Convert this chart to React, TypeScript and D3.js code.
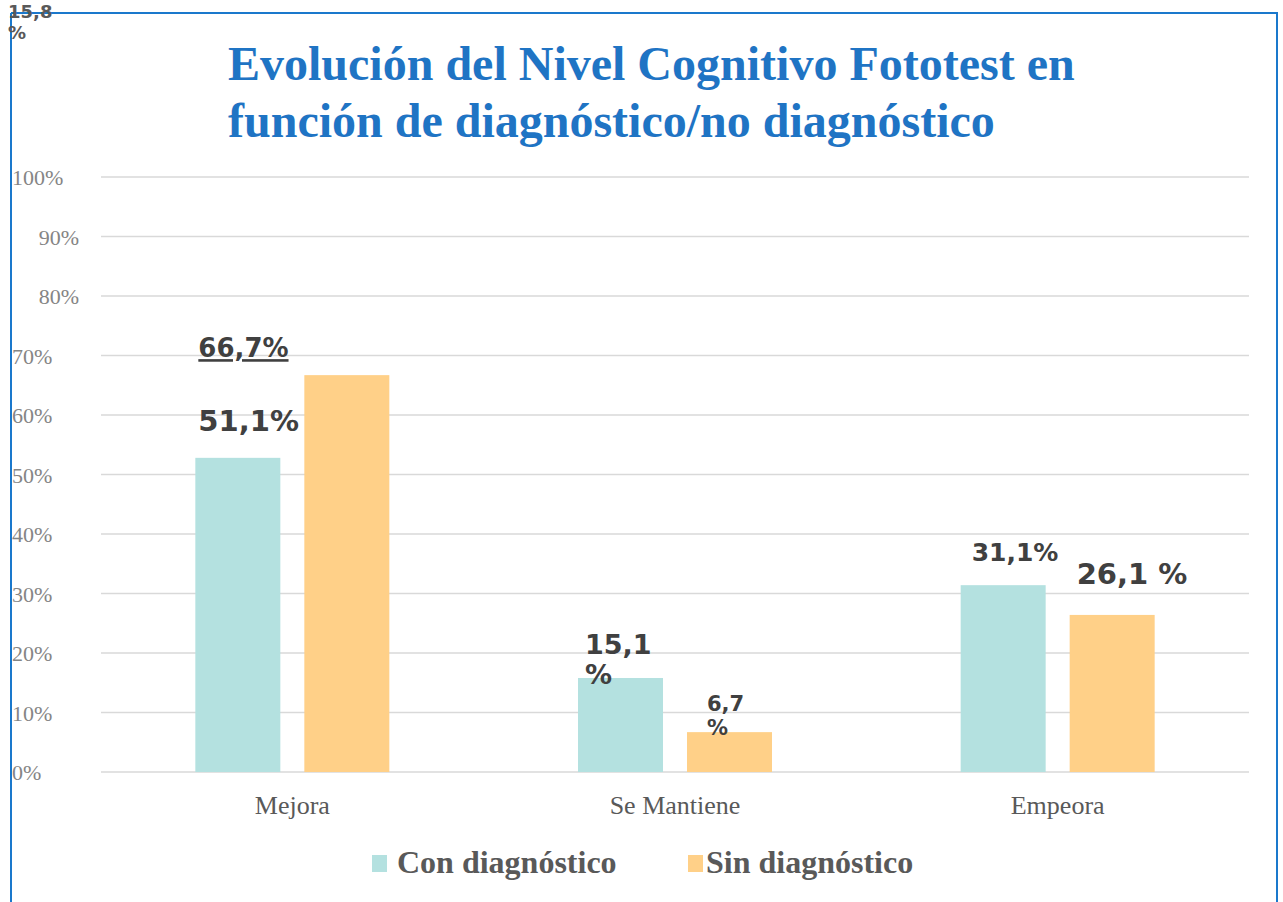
import React from "react";
import * as d3 from "d3";

const categories = ["Mejora", "Se Mantiene", "Empeora"];
const seriesNames = ["Con diagnóstico", "Sin diagnóstico"];
const conValues = [52.8, 15.8, 31.4];
const sinValues = [66.7, 6.7, 26.4];
const conLabels = [["51,1%"], ["15,1", "%"], ["31,1%"]];
const sinLabels = [["66,7%"], ["6,7", "%"], ["26,1 %"]];
const yTicks = [0, 10, 20, 30, 40, 50, 60, 70, 80, 90, 100];
const strayLabel = ["15,8", "%"];
const titleLines = ["Evolución del Nivel Cognitivo Fototest en", "función de diagnóstico/no diagnóstico"];

const W = 1283;
const H = 902;
const COLORS = ["#b4e1e0", "#ffd088"];
const LABEL_FONT = "'DejaVu Sans', Verdana, sans-serif";
const SERIF = "'Liberation Serif', 'Times New Roman', serif";

export default function App() {
  const plotL = 101;
  const plotR = 1249;
  const y = d3.scaleLinear().domain([0, 100]).range([772, 177]);
  const x0 = d3.scaleBand<string>().domain(categories).range([plotL, plotR]).padding(0);
  const groupW = 194;
  const x1 = d3
    .scaleBand<string>()
    .domain(seriesNames)
    .range([-groupW / 2, groupW / 2])
    .paddingInner(0.2202)
    .paddingOuter(0);
  const values = [conValues, sinValues];
  const labels = [conLabels, sinLabels];

  const labelStyle: Record<string, { dx: number; dy: number; size: number; lh: number; underline?: boolean }> = {
    "0-0": { dx: 3, dy: -27, size: 29, lh: 0 },
    "1-0": { dx: -106, dy: -18, size: 26, lh: 0, underline: true },
    "0-1": { dx: 7, dy: -24, size: 27, lh: 30 },
    "1-1": { dx: 20, dy: -21, size: 21, lh: 24 },
    "0-2": { dx: 11, dy: -24, size: 25, lh: 0 },
    "1-2": { dx: 7, dy: -31, size: 29, lh: 0 },
  };

  const center = (c: string) => (x0(c) as number) + x0.bandwidth() / 2;

  return (
    <svg
      width={W}
      height={H}
      style={{ position: "absolute", left: 0, top: 0, background: "#fff" }}
      xmlns="http://www.w3.org/2000/svg"
    >
      <rect x={0} y={0} width={W} height={H} fill="#fff" />
      {/* frame */}
      <line x1={11} y1={13} x2={1278} y2={13} stroke="#1a78cc" strokeWidth={2} />
      <line x1={11} y1={13} x2={11} y2={H} stroke="#1a78cc" strokeWidth={2} />
      <line x1={1277} y1={13} x2={1277} y2={H} stroke="#1a78cc" strokeWidth={2} />

      {/* stray label */}
      <text fontFamily={LABEL_FONT} fontWeight="bold" fontSize={18} fill="#595959">
        <tspan x={8} y={18}>{strayLabel[0]}</tspan>
        <tspan x={8} y={39}>{strayLabel[1]}</tspan>
      </text>

      {/* title */}
      <text fontFamily={SERIF} fontWeight="bold" fontSize={48} fill="#1f74c4">
        {titleLines.map((t, i) => (
          <tspan key={i} x={228} y={80 + i * 57}>
            {t}
          </tspan>
        ))}
      </text>

      {/* gridlines */}
      {yTicks.map((t) => (
        <line key={t} x1={plotL} x2={plotR} y1={y(t)} y2={y(t)} stroke="#d9d9d9" strokeWidth={1.5} />
      ))}
      {/* y tick labels */}
      {yTicks.map((t) => {
        const indented = t === 80 || t === 90;
        return (
          <text
            key={t}
            x={indented ? 79 : 12}
            y={y(t) + 8}
            textAnchor={indented ? "end" : "start"}
            fontFamily={SERIF}
            fontSize={22}
            fill="#858585"
          >
            {t}%
          </text>
        );
      })}

      {/* bars */}
      {categories.map((c, ci) =>
        seriesNames.map((s, si) => {
          const bx = center(c) + (x1(s) as number);
          const v = values[si][ci];
          return (
            <rect
              key={c + s}
              x={bx}
              y={y(v)}
              width={x1.bandwidth()}
              height={y(0) - y(v)}
              fill={COLORS[si]}
            />
          );
        })
      )}

      {/* data labels */}
      {categories.map((c, ci) =>
        seriesNames.map((s, si) => {
          const bx = center(c) + (x1(s) as number);
          const v = values[si][ci];
          const st = labelStyle[`${si}-${ci}`];
          const lines = labels[si][ci];
          const lx = bx + st.dx;
          const ly = y(v) + st.dy;
          return (
            <text
              key={"l" + c + s}
              fontFamily={LABEL_FONT}
              fontWeight="bold"
              fontSize={st.size}
              fill="#404040"
              textDecoration={st.underline ? "underline" : undefined}
            >
              {lines.map((ln, li) => (
                <tspan key={li} x={lx} y={ly + li * st.lh}>
                  {ln}
                </tspan>
              ))}
            </text>
          );
        })
      )}

      {/* category labels */}
      {categories.map((c) => (
        <text
          key={"c" + c}
          x={center(c)}
          y={814}
          textAnchor="middle"
          fontFamily={SERIF}
          fontSize={26}
          fill="#595959"
        >
          {c}
        </text>
      ))}

      {/* legend */}
      {seriesNames.map((s, i) => {
        const lx = i === 0 ? 372 : 688;
        return (
          <g key={"lg" + s}>
            <rect x={lx} y={855} width={15} height={17} fill={COLORS[i]} />
            <text x={lx + (i === 0 ? 25 : 18)} y={873} fontFamily={SERIF} fontWeight="bold" fontSize={32} fill="#595959">
              {s}
            </text>
          </g>
        );
      })}
    </svg>
  );
}
